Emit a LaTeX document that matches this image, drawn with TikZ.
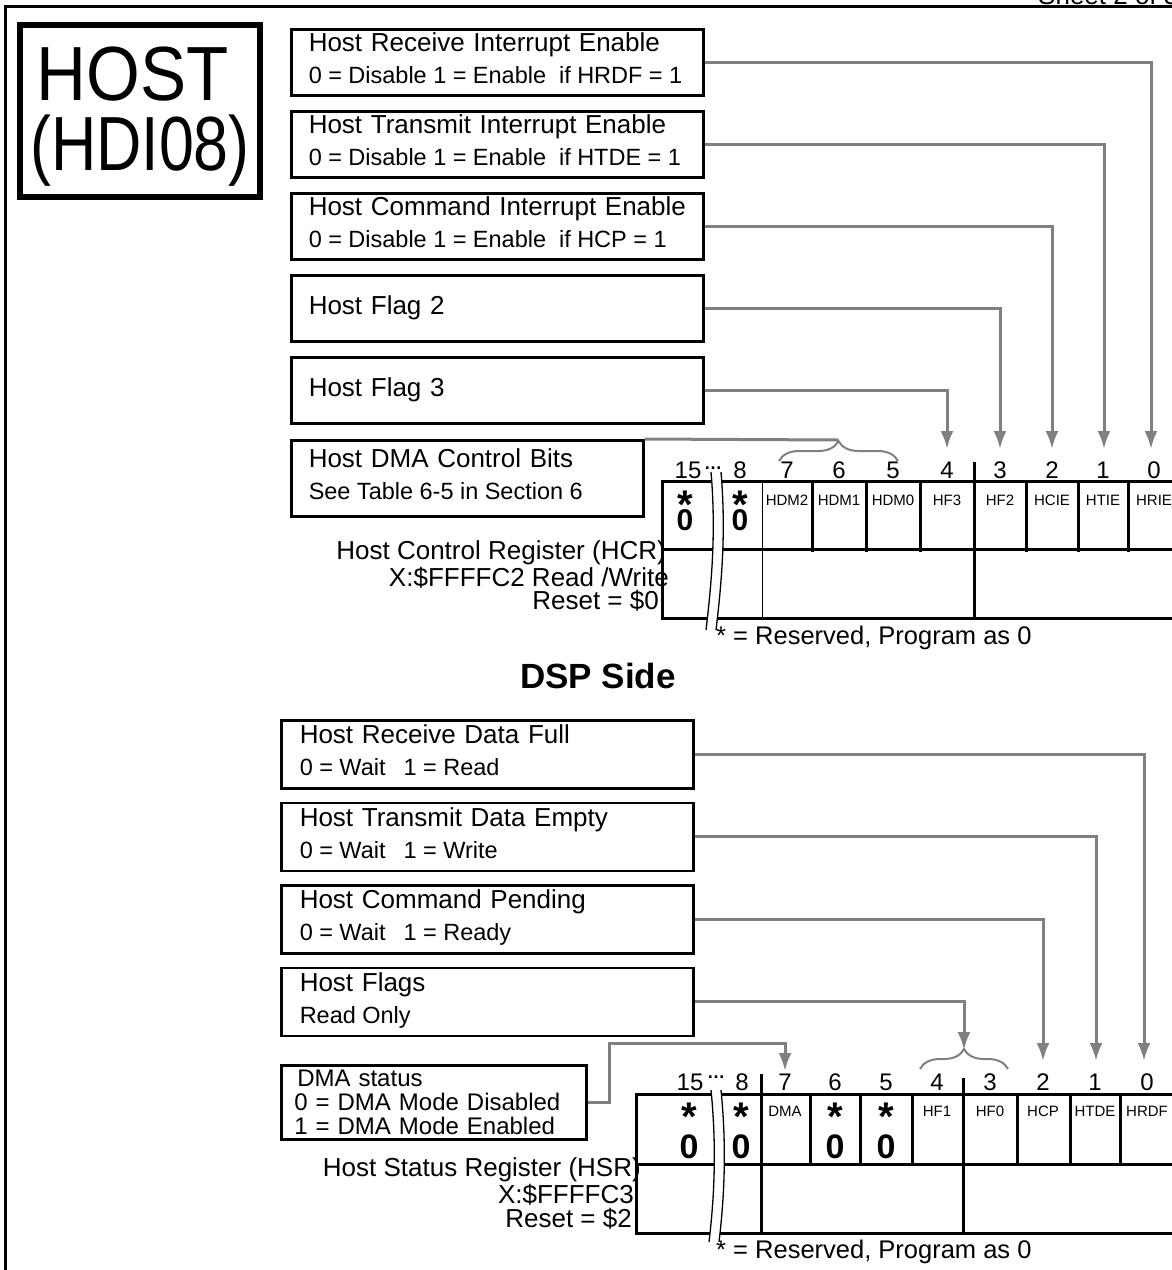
\documentclass[tikz,border=0pt]{standalone}
\usepackage{fontspec}
\setmainfont{Liberation Sans}
\usetikzlibrary{positioning,arrows.meta,decorations.pathreplacing}

\newcommand{\fsz}[1]{\fontsize{#1}{#1}\selectfont}
\newcommand{\subln}[1]{\mbox{\fontsize{23.5}{32}\selectfont\spaceskip=.275em #1}\rule[-8pt]{0pt}{0pt}}

\begin{document}
\begin{tikzpicture}[
  x=1pt, y=-1pt,
  node distance=13.5pt and 0pt,
  infobox/.style={draw,line width=2.5pt,minimum width=412pt,minimum height=66pt,text width=377pt,inner xsep=17.5pt,inner ysep=0pt,align=left,font=\fontsize{26}{32}\selectfont},
  conn/.style={draw=gray,line width=3pt},
  connarr/.style={conn,-{Latex[length=18pt,width=13pt]}},
  graybrace/.style={draw=gray,line width=2pt,decorate,decoration={brace,amplitude=20pt}},
  bitnum/.style={font=\fsz{24},inner sep=0pt},
  bitlab/.style={font=\fsz{15},inner sep=0pt},
  dotsnode/.style={font=\bfseries\fsz{18},anchor=base,inner sep=0pt},
  resv/.style={font=\bfseries\fsz{40},anchor=base,inner sep=0pt},
  zero/.style={font=\bfseries\fsz{30},anchor=base,inner sep=0pt},
  regtxt/.style={anchor=east,font=\fsz{26},inner sep=0pt},
  note/.style={anchor=west,font=\fsz{25.5},inner sep=0pt},
  reg/.style={line width=3pt},
  cut/.style={line width=1.3pt}
]
\useasboundingbox (0,0) rectangle (1172,1270);
\clip (0,0) rectangle (1172,1270);

% page frame and title
\node[anchor=base west,font=\fsz{26},inner sep=0pt] (sheet) at (1038,4) {Sheet 2 of 3};
\draw[line width=3.5pt] (5.5,1300) -- (5.5,6.5) -- (1200,6.5);
\node[draw,line width=6pt,minimum width=240pt,minimum height=172pt,align=center,font=\fontsize{64}{70}\selectfont] (host) at (140,111)
  {\rule{0pt}{65pt}\scalebox{1.08}[1.2]{HOST}\kern14pt\\\scalebox{0.98}[1.2]{(HDI08)}};

% HCR description boxes
\node[infobox,anchor=north west] (hrie) at (290,28) {\mbox{Host Receive Interrupt Enable}\\\subln{0 = Disable 1 = Enable\ \ if HRDF = 1}};
\node[infobox,below=of hrie] (htie) {\mbox{Host Transmit Interrupt Enable}\\\subln{0 = Disable 1 = Enable\ \ if HTDE = 1}};
\node[infobox,below=of htie] (hcie) {\mbox{Host Command Interrupt Enable}\\\subln{0 = Disable 1 = Enable\ \ if HCP = 1}};
\node[infobox,below=of hcie] (hf2) {Host Flag 2};
\node[infobox,below=of hf2] (hf3) {Host Flag 3};
\node[infobox,below=14.5pt of hf3.south west,anchor=north west,minimum width=352pt,minimum height=76pt,text width=317pt] (hdm) {\mbox{Host DMA Control Bits}\\\subln{See Table 6-5 in Section 6}};

% HCR register
\draw[reg] (662,481) rectangle (1200,618);
\draw[reg] (662,549) -- (1200,549);
\draw[line width=1pt] (762,481) -- (762,618);
\draw[reg] (974,462) -- (974,618);
\draw[reg] (812,481) -- (812,552);
\draw[reg] (866,481) -- (866,552);
\draw[reg] (920,481) -- (920,552);
\draw[reg] (1026,481) -- (1026,552);
\draw[reg] (1078,481) -- (1078,552);
\draw[reg] (1128,481) -- (1128,552);
\fill[white] (711,472) .. controls (716,530) and (712,580) .. (706,630) -- (716,630) .. controls (722,580) and (726,530) .. (721,472) -- cycle;
\draw[cut] (711,472) .. controls (716,530) and (712,580) .. (706,630);
\draw[cut] (721,472) .. controls (726,530) and (722,580) .. (716,630);

\node[bitnum] (hcrn15) at (688,470) {15};
\node[dotsnode] (hcrdots) at (713,469) {…};
\node[bitnum] (hcrn8) at (740,470) {8};
\node[bitnum] (hcrn7) at (787,470) {7};
\node[bitnum] (hcrn6) at (839,470) {6};
\node[bitnum] (hcrn5) at (893,470) {5};
\node[bitnum] (hcrn4) at (947,470) {4};
\node[bitnum] (hcrn3) at (1000,470) {3};
\node[bitnum] (hcrn2) at (1052,470) {2};
\node[bitnum] (hcrn1) at (1103,470) {1};
\node[bitnum] (hcrn0) at (1154,470) {0};

\node[resv] (hcrs15) at (685,518) {*};
\node[zero] (hcrz15) at (685,530) {0};
\node[resv] (hcrs8) at (740,518) {*};
\node[zero] (hcrz8) at (740,530) {0};
\node[bitlab] (hdm2) at (787,500) {HDM2};
\node[bitlab] (hdm1) at (839,500) {HDM1};
\node[bitlab] (hdm0) at (893,500) {HDM0};
\node[bitlab] (hcrf3) at (947,500) {HF3};
\node[bitlab] (hcrf2) at (1000,500) {HF2};
\node[bitlab] (hcrce) at (1052,500) {HCIE};
\node[bitlab] (hcrte) at (1103,500) {HTIE};
\node[bitlab] (hcrre) at (1154,500) {HRIE};

\node[regtxt] (hcrname) at (666,553) {Host Control Register (HCR)};
\node[regtxt] (hcraddr) at (669,578) {X:\$FFFFC2 Read /Write};
\node[regtxt] (hcrrst) at (659,601) {Reset = \$0};
\node[note] (hcrnote) at (716,638) {* = Reserved, Program as 0};

\coordinate (hcrt0) at (1151,449);
\coordinate (hcrt1) at (1104,449);
\coordinate (hcrt2) at (1052,449);
\coordinate (hcrt3) at (1000,449);
\coordinate (hcrt4) at (947,449);
\coordinate (hdmtip) at (838.5,440);
\draw[connarr] (hrie.east) -| (hcrt0);
\draw[connarr] (htie.east) -| (hcrt1);
\draw[connarr] (hcie.east) -| (hcrt2);
\draw[connarr] (hf2.east) -| (hcrt3);
\draw[connarr] (hf3.east) -| (hcrt4);
\draw[conn] (hdm.north east) -- (hdmtip);
\draw[graybrace] (779,461) -- (898,461);

\node[font=\bfseries\fsz{35}] (dspside) at (598,676) {DSP Side};

% HSR description boxes
\node[infobox,anchor=north west,minimum height=68pt,text width=375pt,inner xsep=18.5pt] (hrdf) at (280,719) {\mbox{Host Receive Data Full}\\\subln{0 = Wait\hspace{18pt}1 = Read}};
\node[infobox,below=12pt of hrdf,minimum height=68pt,text width=375pt,inner xsep=18.5pt] (htde) {\mbox{Host Transmit Data Empty}\\\subln{0 = Wait\hspace{18pt}1 = Write}};
\node[infobox,below=12pt of htde,minimum height=68pt,text width=375pt,inner xsep=18.5pt] (hcp) {\mbox{Host Command Pending}\\\subln{0 = Wait\hspace{18pt}1 = Ready}};
\node[infobox,below=12pt of hcp,minimum height=68pt,text width=375pt,inner xsep=18.5pt] (hflags) {Host Flags\\\subln{Read Only}};
\node[infobox,anchor=north west,minimum width=305pt,minimum height=74pt,text width=279pt,inner xsep=13pt,font=\fontsize{24}{24}\selectfont] (dmastat) at (280,1064) {\hspace{3pt}DMA status\\\mbox{0 = DMA Mode Disabled}\\\mbox{1 = DMA Mode Enabled}};

% HSR register
\draw[reg] (636,1094) rectangle (1200,1233);
\draw[reg] (636,1164) -- (1200,1164);
\draw[reg] (761,1074) -- (761,1233);
\draw[reg] (963,1078) -- (963,1233);
\draw[reg] (810,1094) -- (810,1164);
\draw[reg] (860,1094) -- (860,1164);
\draw[reg] (912,1094) -- (912,1164);
\draw[reg] (1017,1094) -- (1017,1164);
\draw[reg] (1070,1094) -- (1070,1164);
\draw[reg] (1120,1094) -- (1120,1164);
\fill[white] (711,1090) .. controls (717,1150) and (714,1200) .. (709,1242) -- (719,1242) .. controls (724,1200) and (727,1150) .. (721,1090) -- cycle;
\draw[cut] (711,1090) .. controls (717,1150) and (714,1200) .. (709,1242);
\draw[cut] (721,1090) .. controls (727,1150) and (724,1200) .. (719,1242);

\node[bitnum] (hsrn15) at (690,1082) {15};
\node[dotsnode] (hsrdots) at (716,1078) {…};
\node[bitnum] (hsrn8) at (742,1082) {8};
\node[bitnum] (hsrn7) at (785,1082) {7};
\node[bitnum] (hsrn6) at (835,1082) {6};
\node[bitnum] (hsrn5) at (886,1082) {5};
\node[bitnum] (hsrn4) at (937,1082) {4};
\node[bitnum] (hsrn3) at (990,1082) {3};
\node[bitnum] (hsrn2) at (1043,1082) {2};
\node[bitnum] (hsrn1) at (1095,1082) {1};
\node[bitnum] (hsrn0) at (1147,1082) {0};

\node[resv] (hsrs15) at (689,1130) {*};
\node[zero,font=\bfseries\fsz{34}] (hsrz15) at (689,1158) {0};
\node[resv] (hsrs8) at (741,1130) {*};
\node[zero,font=\bfseries\fsz{34}] (hsrz8) at (741,1158) {0};
\node[resv] (hsrs6) at (835,1130) {*};
\node[zero,font=\bfseries\fsz{34}] (hsrz6) at (835,1158) {0};
\node[resv] (hsrs5) at (886,1130) {*};
\node[zero,font=\bfseries\fsz{34}] (hsrz5) at (886,1158) {0};
\node[bitlab] (hsrdma) at (785,1111) {DMA};
\node[bitlab] (hsrf1) at (937,1111) {HF1};
\node[bitlab] (hsrf0) at (990,1111) {HF0};
\node[bitlab] (hsrcp) at (1043,1111) {HCP};
\node[bitlab] (hsrtd) at (1095,1111) {HTDE};
\node[bitlab] (hsrrd) at (1147,1111) {HRDF};

\node[regtxt] (hsrname) at (641,1170) {Host Status Register (HSR)};
\node[regtxt] (hsraddr) at (634,1195) {X:\$FFFFC3};
\node[regtxt] (hsrrst) at (632,1219) {Reset = \$2};
\node[note] (hsrnote) at (716,1252) {* = Reserved, Program as 0};

\coordinate (hsrt0) at (1144,1061);
\coordinate (hsrt1) at (1096,1061);
\coordinate (hsrt2) at (1043,1061);
\coordinate (hfbrtip) at (964,1050);
\coordinate (dmak1) at (609,1043);
\coordinate (dmak2) at (785,1043);
\coordinate (hsrt7) at (785,1071);
\draw[connarr] (hrdf.east) -| (hsrt0);
\draw[connarr] (htde.east) -| (hsrt1);
\draw[connarr] (hcp.east) -| (hsrt2);
\draw[connarr] (hflags.east) -| (hfbrtip);
\draw[graybrace] (920,1069) -- (1008,1069);
\draw[connarr] (dmastat.east) -| (dmak1) -- (dmak2) -- (hsrt7);
\end{tikzpicture}
\end{document}
